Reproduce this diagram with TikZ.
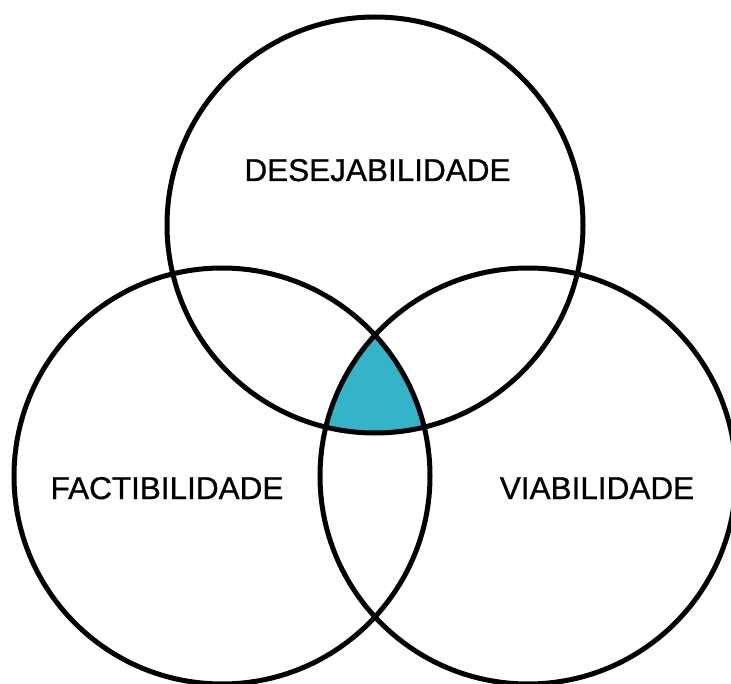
\documentclass[tikz,border=0pt]{standalone}
\usepackage{fontspec}
\setmainfont{Liberation Sans}[FakeBold=0.8]
\definecolor{teal1}{RGB}{51,180,201}
\begin{document}
\begin{tikzpicture}[x=1pt,y=-1pt,
  ring/.style={draw=black,line width=5pt},
  lbl/.style={font=\fontsize{31.5}{36}\selectfont,text=black,inner sep=0pt,anchor=base}]
\useasboundingbox (0,0) rectangle (731,684);
\clip (0,0) rectangle (731,684);
\fill[white] (0,0) rectangle (731,684);
% intersection
\begin{scope}
  \clip (375,225) circle[radius=208];
  \clip (222,476) circle[radius=208];
  \fill[teal1] (528,476) circle[radius=208];
\end{scope}
\draw[ring] (375,225) circle[radius=208];
\draw[ring] (222,476) circle[radius=208];
\draw[ring] (528,476) circle[radius=208];
\node[lbl] (des) at (377.5,181) {DESEJABILIDADE};
\node[lbl] (fac) at (167,499) {FACTIBILIDADE};
\node[lbl] (via) at (597,499) {VIABILIDADE};
\end{tikzpicture}
\end{document}
